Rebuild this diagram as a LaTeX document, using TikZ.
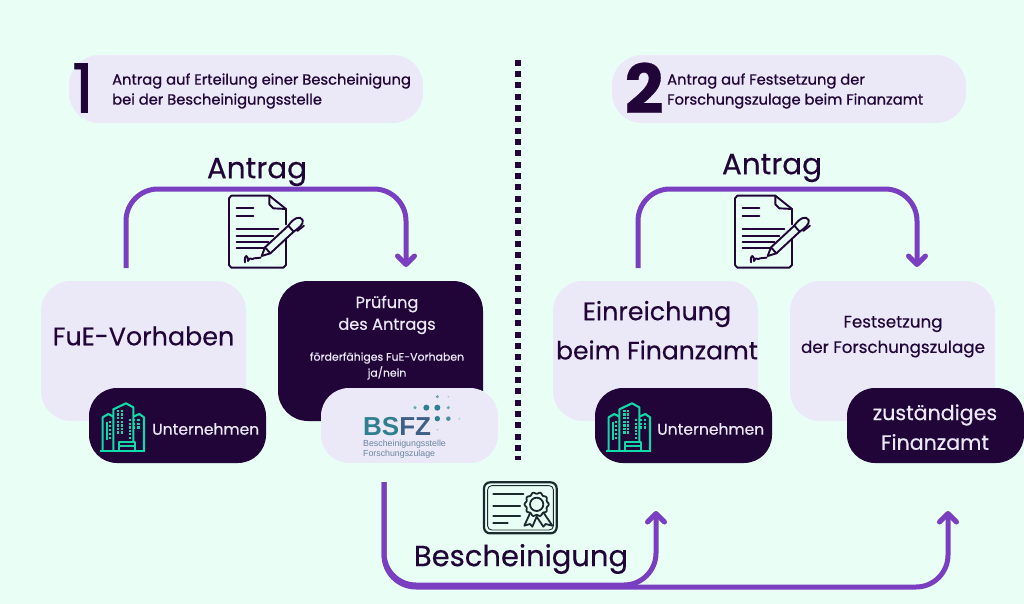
\documentclass[tikz,border=0pt]{standalone}
\usepackage{fontspec}
\setmainfont{Poppins}[FakeBold=0.45]
\newfontfamily\headfont{Poppins}[FakeBold=0.9]
\newfontfamily\numfont{Poppins}[FakeBold=1.2]
\newfontfamily\logofont{Liberation Sans}
\usetikzlibrary{arrows.meta,calc}
\definecolor{bgc}{HTML}{E9FFF6}
\definecolor{pale}{HTML}{EBE9F7}
\definecolor{inkc}{HTML}{210538}
\definecolor{violetc}{HTML}{7A3FC0}
\definecolor{tealc}{HTML}{10DBA8}
\definecolor{certc}{HTML}{1C2A2E}
\definecolor{bsfzt}{HTML}{2F7F8E}
\definecolor{bsfzb}{HTML}{3E5F88}
\definecolor{bsfzg}{HTML}{6A84A0}
\tikzset{
 x=1pt,y=-1pt,
 lbox/.style={fill=pale,rounded corners=30pt,minimum width=205pt,minimum height=140pt,inner sep=0},
 dbox/.style={fill=inkc,rounded corners=30pt,minimum width=205pt,minimum height=140pt,inner sep=0},
 dpill/.style={fill=inkc,rounded corners=28pt,minimum width=177pt,minimum height=75pt,inner sep=0},
 lpill/.style={fill=pale,rounded corners=28pt,minimum width=177pt,minimum height=75pt,inner sep=0},
 head/.style={fill=pale,rounded corners=30pt,minimum width=354pt,minimum height=68pt,inner sep=0},
 txt/.style={inner sep=0,text=inkc,font=\fontsize{#1}{#1}\selectfont},
 wtxt/.style={inner sep=0,text=pale,font=\fontsize{#1}{#1}\selectfont},
 htxt/.style={inner sep=0,text=inkc,anchor=west,font=\headfont\fontsize{14.7}{14.7}\selectfont},
 flow/.style={draw=violetc,line width=5pt,rounded corners=32pt,-{Straight Barb[length=8.5pt,width=17pt,round]}},
 pics/docicon/.style={code={
  \begin{scope}[x=.3333pt,y=-.3333pt,draw=inkc,line width=1.9pt,line cap=round,line join=round]
   \draw (228,150) -- (228,240) -- (220,248) -- (64,248) -- (57,240) -- (57,40) -- (64,32) -- (178,32) -- (228,72) -- (228,118);
   \draw (178,32) -- (178,58) -- (190,70) -- (228,72);
   \foreach \ya/\xb in {68/130,92/130,133/205,152/190,170/175,188/165}{\draw (80,\ya) -- (\xb,\ya);}
   \draw[fill=bgc] (155,213) -- (165,187) -- (235,122) .. controls (250,100) and (270,90) .. (278,105) .. controls (282,118) and (265,130) .. (251,140) -- (181,205) -- cycle;
   \draw (235,122) -- (251,140);
   \draw (165,187) -- (181,205);
   \draw (262,138) -- (282,122);
   \draw (105,232) .. controls (102,205) and (115,210) .. (114,228) .. controls (120,212) and (125,228) .. (132,220) -- (152,218);
  \end{scope}}},
 pics/towericon/.style={code={
  \begin{scope}[x=.3333pt,y=-.3333pt,draw=tealc,line width=2.1pt,line join=round]
   \draw (30,183) -- (165,183);
   \draw (38,183) -- (38,82) -- (55,72) -- (70,80);
   \draw (70,183) -- (70,58) -- (108,40) -- (130,52) -- (130,155);
   \draw (130,80) -- (148,72) -- (162,82) -- (162,183);
   \draw (52,95) -- (52,150);
   \draw (88,180) -- (88,155) -- (136,155) -- (136,180);
   \draw (88,167) -- (136,167);
   \foreach \xa in {85,96}{\foreach \ya in {62,73,...,128}{\fill[tealc] (\xa-3.5,\ya-3.5) rectangle (\xa+3.5,\ya+3.5);}}
   \foreach \xa in {120,133,146}{\foreach \ya in {90,101,...,112}{\fill[tealc] (\xa-3.5,\ya-3.5) rectangle (\xa+3.5,\ya+3.5);}}
   \foreach \ya in {122,133,144}{\fill[tealc] (117,\ya-3.5) rectangle (124,\ya+3.5);}
   \foreach \ya in {96,108,...,144}{\fill[tealc] (57,\ya-3.5) rectangle (64,\ya+3.5);}
  \end{scope}}},
 pics/certicon/.style={code={
  \begin{scope}[x=.3333pt,y=-.3333pt,draw=certc,line width=1.8pt,line join=round,line cap=round]
   \draw[rounded corners=6pt,line width=2.2pt] (27,22) rectangle (245,175);
   \draw[rounded corners=4pt,line width=.9pt] (38,32) rectangle (235,165);
   \foreach \ya/\xb in {57/145,92/135,122/135,143/98}{\draw[line width=2.2pt] (55,\ya) -- (\xb,\ya);}
   \draw[smooth cycle,samples=60,domain=0:354] plot ({185+(34+2.5*cos(10*\x))*cos(\x)},{88+(34+2.5*cos(10*\x))*sin(\x)});
   \draw (185,88) circle[radius=20];
   \draw (165,115) -- (148,152) -- (165,147) -- (172,155) -- (185,125) -- (205,155) -- (212,147) -- (232,152) -- (205,112);
  \end{scope}}}
}
\begin{document}
\begin{tikzpicture}
\useasboundingbox (0,0) rectangle (1024,604);
\fill[bgc] (0,0) rectangle (1024,604);

% headers
\node[head] (h1) at (246,89) {};
\node[head] (h2) at (789,89) {};
\node[inner sep=0,text=inkc,font=\numfont\fontsize{68}{68}\selectfont] (n1) at (83,88) {1};
\node[inner sep=0,text=inkc,font=\fontsize{68}{68}\selectfont\bfseries] (n2) at (644,88) {2};
\node[htxt] (h1a) at (112,81) {Antrag auf Erteilung einer Bescheinigung};
\node[htxt] (h1b) at (112,101) {bei der Bescheinigungsstelle};
\node[htxt] (h2a) at (667,81) {Antrag auf Festsetzung der};
\node[htxt] (h2b) at (667,101) {Forschungszulage beim Finanzamt};

% divider
\coordinate (d1) at (517.5,59.7);
\coordinate (d2) at (517.5,459.5);
\draw[inkc,line width=6pt,dash pattern=on 6pt off 5.33pt] (d1) -- (d2);

% upper connectors
\node[txt=29.4] (an1) at (257,172) {Antrag};
\node[txt=29.4] (an2) at (772,168) {Antrag};
\coordinate (a1s) at (126,268);
\coordinate (a1e) at (406,267);
\coordinate (a2s) at (638,268);
\coordinate (a2e) at (917,267);
\draw[flow] (a1s) -- ++(0,-79) -| (a1e);
\draw[flow] (a2s) -- ++(0,-79) -| (a2e);
\pic at (210,185) {docicon};
\pic at (716,185) {docicon};

% left group
\node[lbox] (fue) at (143.5,351) {};
\node[txt=25.4] (fuet) at (143.5,336) {FuE-Vorhaben};
\node[dpill] (u1) at (177.5,425.5) {};
\pic at (90,390) {towericon};
\node[wtxt=15.6,anchor=west] (u1t) at (152,429) {Unternehmen};

\node[dbox] (pr) at (380.5,351) {};
\node[wtxt=16.2] (pr1) at (387,304) {Prüfung};
\node[wtxt=16.2] (pr2) at (387,326) {des Antrags};
\node[wtxt=10.9] (pr3) at (387,358) {förderfähiges FuE-Vorhaben};
\node[wtxt=10.9] (pr4) at (387,373) {ja/nein};
\node[lpill] (bs) at (409.5,425.5) {};
\foreach \xa/\ya/\ra/\ca in {352/35/1.7/bsfzt!70,385/35/1/bsfzt!40,285/68/1.7/bsfzt!70,319/68/3/bsfzt,352/68/3/bsfzt,385/68/1.7/bsfzt!70,352/101/2.7/bsfzt,385/101/2.3/bsfzt!85,418/101/1/bsfzt!40,352/134/1/bsfzt!40}{
  \fill[\ca] ({320+\xa/3},{385+\ya/3}) circle[radius=\ra];
}
\node[inner sep=0,anchor=west,font=\logofont\bfseries\fontsize{26}{26}\selectfont,text=bsfzt] (bst) at (363,427) {BS\textcolor{bsfzb}{FZ}};
\node[inner sep=0,anchor=west,align=left,text=bsfzg,font=\logofont\fontsize{8.8}{10}\selectfont] (bsc) at (363,449.5) {Bescheinigungsstelle\\Forschungszulage};

% right group
\node[lbox] (ein) at (655.5,351) {};
\node[txt=25.4] (ein1) at (657,314) {Einreichung};
\node[txt=25] (ein2) at (657,350) {beim Finanzamt};
\node[dpill] (u2) at (683.5,425.5) {};
\pic at (596,390) {towericon};
\node[wtxt=15.6,anchor=west] (u2t) at (657,429) {Unternehmen};

\node[lbox] (fs) at (892.5,351) {};
\node[txt=16.7] (fs1) at (893,324) {Festsetzung};
\node[txt=16.7] (fs2) at (893,349) {der Forschungszulage};
\node[dpill] (fa) at (935.5,425.5) {};
\node[wtxt=20.6] (fa1) at (935,415) {zuständiges};
\node[wtxt=20.6] (fa2) at (935,442) {Finanzamt};

% certificate and lower connectors
\pic at (475,475) {certicon};
\node[txt=29] (bt) at (521,559) {Bescheinigung};
\coordinate (b1) at (384,482);
\coordinate (e1) at (656,511);
\coordinate (e2) at (948,511);
\draw[flow] (b1) -- ++(0,105) -| (e2);
\draw[flow] (b1) -- ++(0,103) -| (e1);
\end{tikzpicture}
\end{document}
